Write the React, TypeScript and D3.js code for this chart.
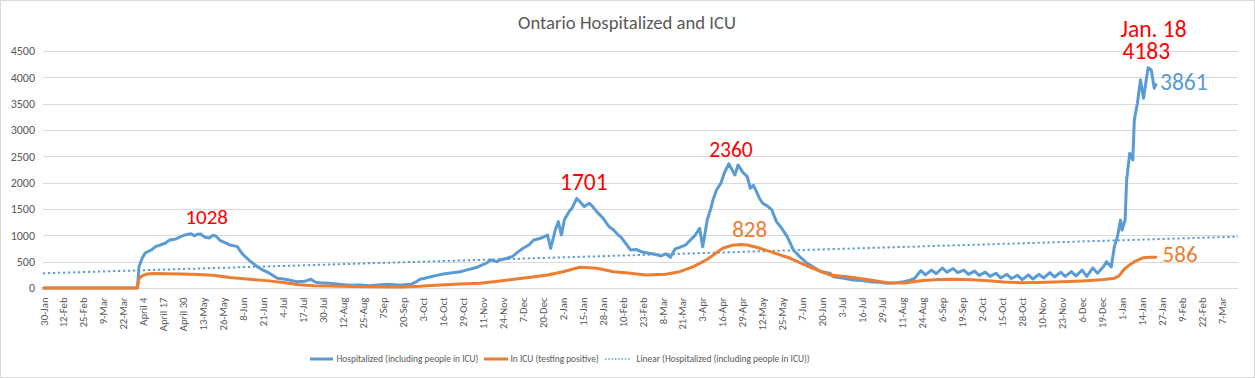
import React from 'react';
import * as d3 from 'd3';

// ---------- DATA ----------
const title = 'Ontario Hospitalized and ICU';
const categoryCount = 778; // daily categories from 30-Jan-2020
const xTickLabels = [
  '30-Jan', '12-Feb', '25-Feb', '9-Mar', '22-Mar', 'April 4', 'April 17', 'April 30', '13-May', '26-May',
  '8-Jun', '21-Jun', '4-Jul', '17-Jul', '30-Jul', '12-Aug', '25-Aug', '7Sep', '20-Sep', '3-Oct',
  '16-Oct', '29-Oct', '11-Nov', '24-Nov', '7-Dec', '20-Dec', '2-Jan', '15-Jan', '28-Jan', '10-Feb',
  '23-Feb', '8-Mar', '21-Mar', '3-Apr', '16-Apr', '29-Apr', '12-May', '25-May', '7-Jun', '20-Jun',
  '3-Jul', '16-Jul', '29-Jul', '11-Aug', '24-Aug', '6-Sep', '19-Sep', '2-Oct', '15-Oct', '28-Oct',
  '10-Nov', '23-Nov', '6-Dec', '19-Dec', '1-Jan', '14-Jan', '27-Jan', '9-Feb', '22-Feb', '7-Mar',
];
const xTickEvery = 13;
const yTicks = [0, 500, 1000, 1500, 2000, 2500, 3000, 3500, 4000, 4500];

// [day index since 30-Jan-2020, value]
const hospitalized: [number, number][] = [
  [0, 0], [61, 0], [62, 405], [64, 560], [66, 665], [70, 722], [73, 790], [76, 817], [79, 850], [82, 912],
  [86, 930], [89, 975], [92, 1007], [94, 1020], [96, 1028], [98, 990], [100, 1020], [102, 1026], [105, 965],
  [108, 950], [110, 1000], [112, 988], [115, 898], [118, 860], [121, 817], [124, 800], [126, 785], [128, 700],
  [130, 627], [134, 519], [139, 405], [142, 350], [145, 310], [148, 260], [152, 184], [156, 170], [160, 150],
  [165, 120], [170, 130], [174, 165], [177, 110], [180, 100], [186, 89], [192, 70], [199, 50], [206, 55],
  [212, 44], [219, 60], [225, 70], [232, 51], [236, 65], [239, 70], [242, 110], [245, 165], [248, 185],
  [252, 215], [256, 240], [260, 266], [265, 285], [271, 310], [275, 340], [278, 360], [282, 393], [284, 418],
  [288, 470], [291, 532], [295, 500], [297, 532], [301, 560], [305, 595], [309, 690], [312, 754], [316, 820],
  [319, 912], [323, 940], [326, 975], [328, 1007], [330, 754], [333, 1100], [335, 1260], [337, 1007],
  [339, 1300], [342, 1450], [344, 1520], [347, 1701], [349, 1640], [352, 1545], [355, 1609], [357, 1560],
  [360, 1450], [364, 1330], [368, 1165], [371, 1100], [374, 1007], [376, 960], [378, 880], [382, 722],
  [386, 730], [389, 690], [394, 659], [398, 640], [402, 608], [405, 650], [408, 583], [411, 740], [414, 773],
  [418, 820], [421, 912], [424, 1000], [427, 1134], [429, 785], [432, 1300], [434, 1482], [436, 1700],
  [438, 1862], [441, 2000], [443, 2179], [446, 2360], [448, 2250], [450, 2147], [452, 2337], [455, 2200],
  [458, 2115], [460, 1894], [462, 1950], [464, 1830], [466, 1700], [468, 1609], [471, 1560], [474, 1482],
  [477, 1260], [480, 1150], [484, 975], [486, 850], [488, 722], [492, 600], [497, 469], [501, 400],
  [506, 310], [512, 279], [514, 215], [520, 190], [527, 152], [533, 140], [538, 120], [544, 110], [549, 89],
  [555, 100], [560, 120], [564, 150], [567, 184], [571, 330], [574, 250], [578, 340], [581, 270], [585, 380],
  [588, 300], [592, 370], [595, 290], [599, 340], [602, 260], [606, 320], [609, 240], [613, 300], [616, 220],
  [620, 280], [623, 190], [627, 260], [630, 180], [634, 240], [637, 160], [641, 250], [644, 170], [648, 260],
  [651, 190], [655, 290], [658, 210], [662, 300], [665, 220], [669, 310], [672, 230], [676, 340], [679, 220],
  [683, 380], [686, 280], [690, 410], [692, 500], [695, 400], [697, 785], [699, 975], [701, 1292], [702, 1102],
  [704, 1292], [705, 2052], [707, 2559], [709, 2432], [710, 3192], [712, 3509], [714, 3952], [716, 3604],
  [718, 4000], [719, 4183], [721, 4142], [723, 3794], [724, 3861],
];

const icu: [number, number][] = [
  [0, 0], [61, 0], [62, 184], [64, 230], [67, 265], [72, 275], [80, 270], [90, 265], [100, 258], [110, 240],
  [121, 200], [132, 170], [145, 140], [157, 100], [166, 60], [176, 45], [186, 38], [200, 28], [215, 22],
  [232, 20], [245, 32], [258, 55], [271, 75], [284, 89], [296, 130], [306, 165], [317, 205], [328, 247],
  [338, 310], [349, 393], [360, 374], [371, 310], [382, 279], [392, 247], [405, 260], [414, 310], [423, 405],
  [432, 545], [442, 754], [448, 810], [454, 828], [458, 817], [464, 773], [473, 690], [486, 564], [497, 418],
  [512, 247], [527, 200], [538, 152], [549, 100], [560, 95], [571, 139], [582, 160], [593, 165], [604, 155],
  [615, 139], [625, 115], [636, 101], [647, 105], [658, 114], [668, 125], [679, 139], [690, 160], [697, 184],
  [700, 230], [703, 342], [706, 420], [710, 500], [716, 576], [720, 583], [724, 586],
];

// linear trendline of hospitalized, read at first and last category
const trendline: [number, number][] = [[0, 279], [777, 975]];

// annotations: text, position in data units (day, value)
const annotations = [
  { text: '1028', day: 106.1, value: 1209, color: '#FF0000', size: 21, anchor: 'middle' },
  { text: '1701', day: 351.6, value: 1861, color: '#FF0000', size: 23.5, anchor: 'middle' },
  { text: '2360', day: 447.4, value: 2487, color: '#FF0000', size: 21.5, anchor: 'middle' },
  { text: '828', day: 459.6, value: 963, color: '#ED7D31', size: 23, anchor: 'middle' },
  { text: 'Jan. 18', day: 722.5, value: 4772, color: '#FF0000', size: 23.5, anchor: 'middle' },
  { text: '4183', day: 717.8, value: 4342, color: '#FF0000', size: 23.5, anchor: 'middle' },
  { text: '3861', day: 726.7, value: 3759, color: '#5B9BD5', size: 23.5, anchor: 'start' },
  { text: '586', day: 728.4, value: 488, color: '#ED7D31', size: 23, anchor: 'start' },
];

const legendItems = [
  { label: 'Hospitalized (including people in ICU)', color: '#5B9BD5', dotted: false },
  { label: 'In ICU (testing positive)', color: '#ED7D31', dotted: false },
  { label: 'Linear (Hospitalized (including people in ICU))', color: '#5B9BD5', dotted: true },
];

// ---------- LAYOUT ----------
const W = 1255;
const H = 378;
const plot = { left: 43, right: 1238, top: 51, bottom: 288 };
const FONT = "Carlito, Calibri, 'Liberation Sans', Arial, sans-serif";
const GRID = '#D9D9D9';
const TEXT = '#595959';
const legendPos = [
  { x1: 310, x2: 333, tx: 336.5 },
  { x1: 484, x2: 508, tx: 510.5 },
  { x1: 605, x2: 630, tx: 636.5 },
];

export default function App() {
  const xBand = d3
    .scaleBand<number>()
    .domain(d3.range(categoryCount))
    .range([plot.left, plot.right])
    .padding(0);
  const step = xBand.step();
  const xc = (d: number) => (xBand(0) as number) + step * (d + 0.5);
  const y = d3.scaleLinear().domain([0, 4500]).range([plot.bottom, plot.top]);

  const line = d3
    .line<[number, number]>()
    .x((d) => xc(d[0]))
    .y((d) => y(d[1]))
    .curve(d3.curveLinear);

  const trendLine = d3
    .line<[number, number]>()
    .x((d, i) => (i === 0 ? plot.left : plot.right))
    .y((d) => y(d[1]));

  return (
    <svg
      width={W}
      height={H}
      style={{ position: 'absolute', left: 0, top: 0, background: '#fff' }}
      fontFamily={FONT}
    >
      <rect x={0} y={0} width={W} height={H} fill="#fff" />
      <rect x={0.5} y={0.5} width={W - 1} height={H - 1} fill="none" stroke={GRID} />

      {/* title */}
      <text x={627} y={28.5} textAnchor="middle" fontSize={18.67} fill={TEXT}>
        {title}
      </text>

      {/* gridlines + y labels */}
      {yTicks.map((t) => (
        <g key={t}>
          <line
            x1={plot.left}
            x2={plot.right}
            y1={Math.round(y(t)) + 0.5}
            y2={Math.round(y(t)) + 0.5}
            stroke={GRID}
            strokeWidth={1}
          />
          <text x={35} y={y(t)} dy="0.35em" textAnchor="end" fontSize={12} fill={TEXT}>
            {t}
          </text>
        </g>
      ))}

      {/* x labels */}
      {xTickLabels.map((lab, i) => {
        const cx = xc(i * xTickEvery);
        return (
          <text
            key={i}
            transform={`translate(${cx},${297.5}) rotate(-90)`}
            dy="0.35em"
            textAnchor="end"
            fontSize={10.7}
            fill={TEXT}
          >
            {lab}
          </text>
        );
      })}

      {/* trendline */}
      <path
        d={trendLine(trendline) || ''}
        fill="none"
        stroke="#5B9BD5"
        strokeWidth={2}
        strokeDasharray="2.2 2.8"
      />

      {/* series */}
      <path
        d={line(hospitalized) || ''}
        fill="none"
        stroke="#5B9BD5"
        strokeWidth={3}
        strokeLinejoin="round"
        strokeLinecap="round"
      />
      <path
        d={line(icu) || ''}
        fill="none"
        stroke="#ED7D31"
        strokeWidth={3}
        strokeLinejoin="round"
        strokeLinecap="round"
      />

      {/* annotations */}
      {annotations.map((a, i) => (
        <text
          key={i}
          x={xc(a.day)}
          y={y(a.value)}
          textAnchor={a.anchor as any}
          fontSize={a.size}
          fill={a.color}
        >
          {a.text}
        </text>
      ))}

      {/* legend */}
      {legendItems.map((it, i) => (
        <g key={i}>
          <line
            x1={legendPos[i].x1}
            x2={legendPos[i].x2}
            y1={359}
            y2={359}
            stroke={it.color}
            strokeWidth={it.dotted ? 1.5 : 3}
            strokeDasharray={it.dotted ? '1.5 1.8' : undefined}
          />
          <text x={legendPos[i].tx} y={359} dy="0.35em" fontSize={9.4} fill={TEXT}>
            {it.label}
          </text>
        </g>
      ))}
    </svg>
  );
}
